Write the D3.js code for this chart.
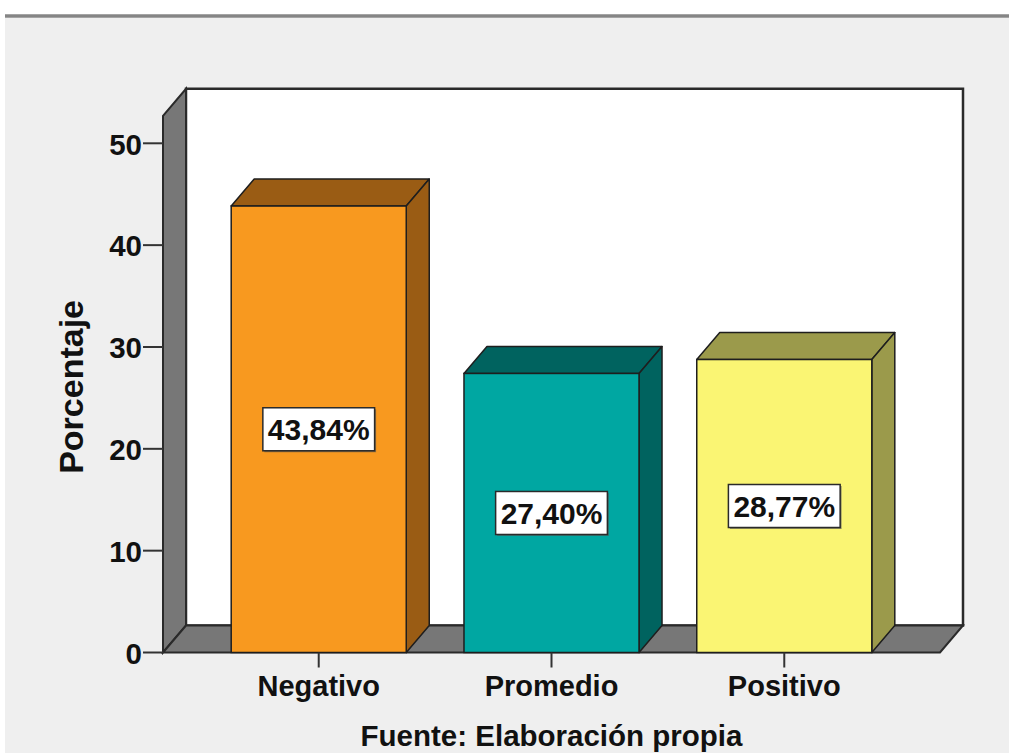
<!DOCTYPE html>
<html>
<head>
<meta charset="utf-8">
<script src="https://cdn.jsdelivr.net/npm/d3@7"></script>
<style>
  html, body { margin: 0; padding: 0; background: #ffffff; }
  svg { display: block; }
  text { font-family: "Liberation Sans", Arial, sans-serif; font-weight: bold; fill: #111; }
</style>
</head>
<body>
<script>
// Distribution of responses (percent)
const categories = ["Negativo", "Promedio", "Positivo"];
const values = [43.84, 27.40, 28.77];
const valueLabels = ["43,84%", "27,40%", "28,77%"];
const frontColors = ["#f8991f", "#00a7a2", "#faf573"];
const sideColors = ["#9a5c14", "#00635f", "#9b9a4b"];
const yTicks = [0, 10, 20, 30, 40, 50];
const yMax = 52.7;
const yTitle = "Porcentaje";
const caption = "Fuente: Elaboración propia";

const W = 1009, H = 753;
const depthX = 23, depthY = 27;

const svg = d3.select("body").append("svg").attr("width", W).attr("height", H);

// Page background with a separator rule along the top
svg.append("rect").attr("x", 0).attr("y", 0).attr("width", W).attr("height", H).attr("fill", "#ffffff");
svg.append("rect").attr("x", 5).attr("y", 17).attr("width", W - 5).attr("height", H - 17).attr("fill", "#efefef");
svg.append("rect").attr("x", 5).attr("y", 14).attr("width", W - 5).attr("height", 4).attr("fill", "#a4a4a4");
svg.append("line").attr("x1", 5).attr("x2", W).attr("y1", 16).attr("y2", 16).attr("stroke", "#858585").attr("stroke-width", 2);

const y = d3.scaleLinear().domain([0, 50]).range([652.5, 143.3]);
const x = d3.scaleBand().domain(categories).range([163, 940]).paddingInner(0.248).paddingOuter(0.293);

const [fx0, fx1] = x.range();
const y0 = y(0), yTop = y(yMax);

const poly = pts => "M" + pts.map(p => p.join(",")).join("L") + "Z";
const wallStroke = "#2a2a2a";

// Back wall
svg.append("path")
  .attr("d", poly([[fx0 + depthX, yTop - depthY], [fx1 + depthX, yTop - depthY], [fx1 + depthX, y0 - depthY], [fx0 + depthX, y0 - depthY]]))
  .attr("fill", "#ffffff").attr("stroke", wallStroke).attr("stroke-width", 2.5).attr("stroke-linejoin", "miter");

// Left wall
svg.append("path")
  .attr("d", poly([[fx0, yTop], [fx0 + depthX, yTop - depthY], [fx0 + depthX, y0 - depthY], [fx0, y0]]))
  .attr("fill", "#777777").attr("stroke", wallStroke).attr("stroke-width", 2);

// Floor
svg.append("path")
  .attr("d", poly([[fx0, y0], [fx0 + depthX, y0 - depthY], [fx1 + depthX, y0 - depthY], [fx1, y0]]))
  .attr("fill", "#777777").attr("stroke", wallStroke).attr("stroke-width", 2);

// Y axis ticks and labels
const yAxis = svg.append("g");
yTicks.forEach(t => {
  yAxis.append("line").attr("x1", fx0 - 20).attr("x2", fx0).attr("y1", y(t)).attr("y2", y(t))
    .attr("stroke", "#333").attr("stroke-width", 2);
  yAxis.append("text").attr("x", fx0 - 21).attr("y", y(t)).attr("dy", "0.38em")
    .attr("text-anchor", "end").attr("font-size", 29.5).text(t);
});

// Y axis title
svg.append("text")
  .attr("transform", `translate(83,${(y(0) + y(50)) / 2 - 11}) rotate(-90)`)
  .attr("text-anchor", "middle").attr("font-size", 34).text(yTitle);

// 3D bars
const bars = svg.append("g").selectAll("g").data(categories).join("g");
bars.each(function(c, i) {
  const g = d3.select(this);
  const bx0 = x(c), bx1 = x(c) + x.bandwidth();
  const by = y(values[i]);
  const stroke = "#1e1e1e";
  g.append("path")
    .attr("d", poly([[bx0, by], [bx0 + depthX, by - depthY], [bx1 + depthX, by - depthY], [bx1, by]]))
    .attr("fill", sideColors[i]).attr("stroke", stroke).attr("stroke-width", 1.5).attr("stroke-linejoin", "round");
  g.append("path")
    .attr("d", poly([[bx1, by], [bx1 + depthX, by - depthY], [bx1 + depthX, y0 - depthY], [bx1, y0]]))
    .attr("fill", sideColors[i]).attr("stroke", stroke).attr("stroke-width", 1.5).attr("stroke-linejoin", "round");
  g.append("rect")
    .attr("x", bx0).attr("y", by).attr("width", bx1 - bx0).attr("height", y0 - by)
    .attr("fill", frontColors[i]).attr("stroke", stroke).attr("stroke-width", 1.5);

  // Value label in a boxed tag at the middle of the front face
  const cx = (bx0 + bx1) / 2, cy = (by + y0) / 2;
  const shadow = g.append("rect");
  const box = g.append("rect");
  const txt = g.append("text").attr("x", cx).attr("y", cy).attr("dy", "0.36em")
    .attr("text-anchor", "middle").attr("font-size", 30).text(valueLabels[i]);
  const bb = txt.node().getBBox();
  const bw = bb.width + 10, bh = 43;
  shadow.attr("x", cx - bw / 2 + 1.5).attr("y", cy - bh / 2 + 1.5).attr("width", bw).attr("height", bh)
    .attr("fill", "#555").attr("opacity", 0.6);
  box.attr("x", cx - bw / 2).attr("y", cy - bh / 2).attr("width", bw).attr("height", bh)
    .attr("fill", "#ffffff").attr("stroke", "#2a2a2a").attr("stroke-width", 1.5);
});

// X axis ticks and category labels
const xAxis = svg.append("g");
categories.forEach(c => {
  const cx = x(c) + x.bandwidth() / 2;
  xAxis.append("line").attr("x1", cx).attr("x2", cx).attr("y1", y0).attr("y2", y0 + 15)
    .attr("stroke", "#333").attr("stroke-width", 2);
  xAxis.append("text").attr("x", cx).attr("y", 696).attr("text-anchor", "middle")
    .attr("font-size", 29).text(c);
});

// Source caption, centred under the category axis
svg.append("text").attr("x", (fx0 + fx1) / 2).attr("y", 746).attr("text-anchor", "middle")
  .attr("font-size", 29.5).text(caption);
</script>
</body>
</html>
